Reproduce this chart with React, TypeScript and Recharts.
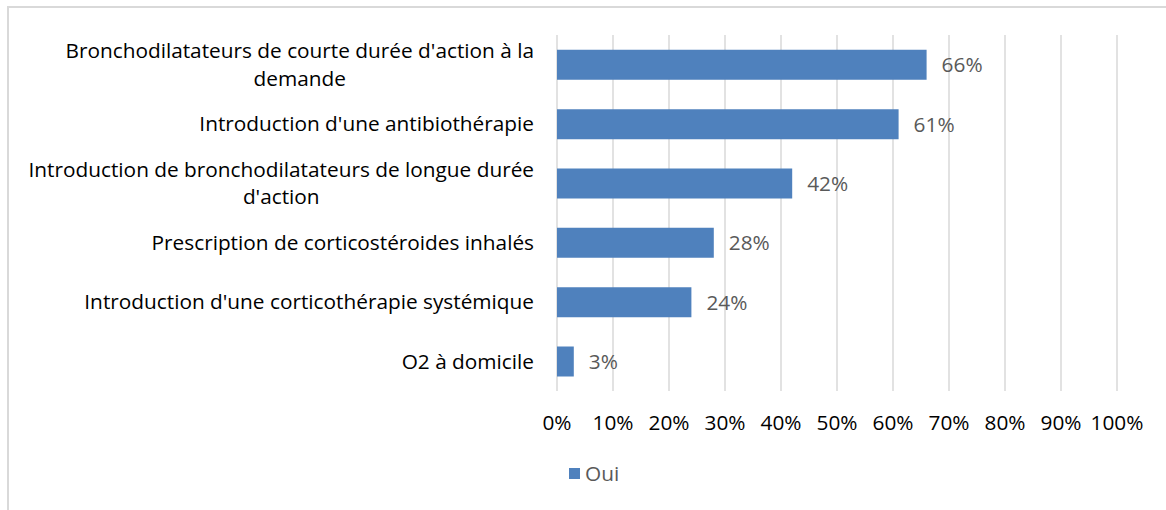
import React from 'react';
import { BarChart, Bar, XAxis, YAxis, CartesianGrid, LabelList, Legend } from 'recharts';

const categories = [
  "Bronchodilatateurs de courte durée d'action à la\ndemande",
  "Introduction d'une antibiothérapie",
  "Introduction de bronchodilatateurs de longue durée\nd'action",
  'Prescription de corticostéroides inhalés',
  "Introduction d'une corticothérapie systémique",
  'O2 à domicile',
];
const oui = [66, 61, 42, 28, 24, 3];
const xTicks = [0, 10, 20, 30, 40, 50, 60, 70, 80, 90, 100];

const data = categories.map((name, i) => ({ name, oui: oui[i] }));

const FONT = '"Open Sans", "Noto Sans", sans-serif';
const FONT_SIZE = 20.8;

let canvas: HTMLCanvasElement | null = null;
const measure = (s: string) => {
  if (!canvas) canvas = document.createElement('canvas');
  const ctx = canvas.getContext('2d')!;
  ctx.font = `${FONT_SIZE}px ${FONT}`;
  return ctx.measureText(s).width;
};

// multi-line category label, lines centred on each other, block right-aligned
const CategoryTick = (props: any) => {
  const { x, y, payload } = props;
  const lines = String(payload.value).split('\n');
  const blockW = Math.max(...lines.map(measure));
  const cx = x - blockW / 2;
  const lh = 27.5;
  const y0 = y - ((lines.length - 1) * lh) / 2;
  return (
    <g>
      {lines.map((l, i) => (
        <text key={i} x={cx} y={y0 + i * lh} dy="0.35em" textAnchor="middle" fill="#000" fontSize={FONT_SIZE} fontFamily={FONT}>
          {l}
        </text>
      ))}
    </g>
  );
};

const LegendContent = () => (
  <div style={{ display: 'flex', alignItems: 'center', fontFamily: FONT, fontSize: FONT_SIZE, color: '#595959' }}>
    <span style={{ width: 11, height: 11, background: '#4f81bd', display: 'inline-block', marginRight: 5 }} />
    <span>Oui</span>
  </div>
);

export default function App() {
  return (
    <div style={{ position: 'fixed', left: 0, top: 0, width: 1166, height: 510, background: '#fff', overflow: 'hidden' }}>
      <div style={{ position: 'absolute', left: 7, top: 6, width: 2000, height: 2000, border: '2px solid #d9d9d9' }} />
      <div style={{ position: 'absolute', left: 0, top: 0 }}>
        <BarChart
          width={1166}
          height={510}
          data={data}
          layout="vertical"
          margin={{ top: 35, right: 49, bottom: 0, left: 0 }}
          barCategoryGap="25%"
        >
          <CartesianGrid horizontal={false} stroke="#d9d9d9" strokeWidth={1.5} />
          <XAxis
            type="number"
            domain={[0, 100]}
            ticks={xTicks}
            tickFormatter={(v) => `${v}%`}
            axisLine={false}
            tickLine={false}
            tickMargin={18}
            height={91}
            interval={0}
            tick={{ fill: '#000', fontSize: FONT_SIZE, fontFamily: FONT }}
          />
          <YAxis
            type="category"
            dataKey="name"
            width={557}
            axisLine={false}
            tickLine={false}
            tickMargin={17}
            interval={0}
            tick={<CategoryTick />}
          />
          <Legend
            content={<LegendContent />}
            wrapperStyle={{ position: 'absolute', left: 569, top: 459, width: 'auto' }}
          />
          <Bar dataKey="oui" fill="#4f81bd" isAnimationActive={false}>
            <LabelList
              dataKey="oui"
              position="right"
              offset={15}
              formatter={(v: any) => `${v}%`}
              fill="#595959"
              fontSize={FONT_SIZE}
              fontFamily={FONT}
            />
          </Bar>
        </BarChart>
      </div>
    </div>
  );
}
